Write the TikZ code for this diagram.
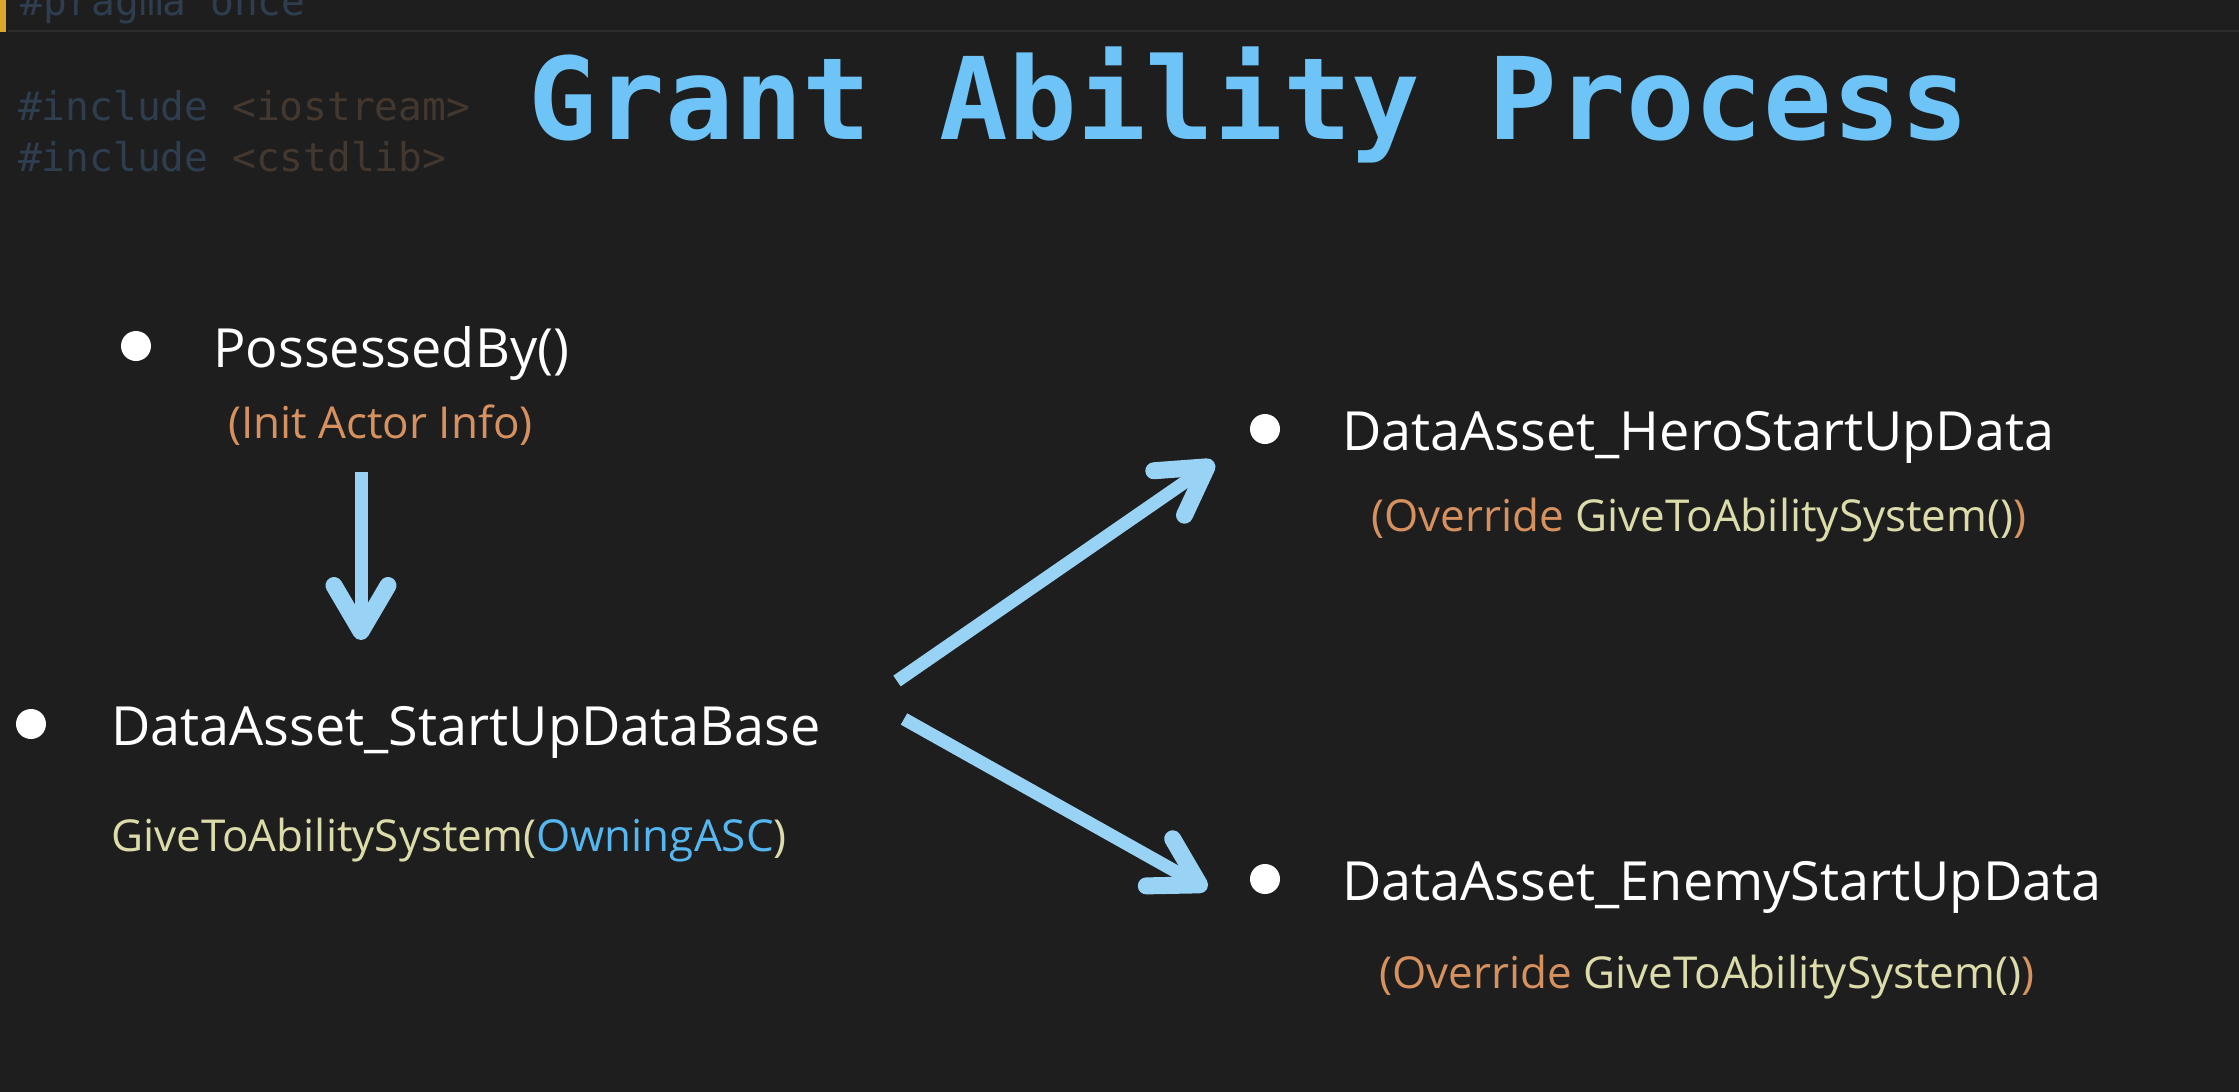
\documentclass[tikz,border=0pt]{standalone}
\usepackage{fontspec}
\setmainfont{Open Sans}
\newfontfamily\monofam{DejaVu Sans Mono}
\usetikzlibrary{arrows.meta}
\definecolor{bg}{HTML}{1E1E1E}
\definecolor{titleblue}{HTML}{6EC3F7}
\definecolor{arrowblue}{HTML}{98D3F6}
\definecolor{strorange}{HTML}{D7915F}
\definecolor{fnyellow}{HTML}{DCDCAA}
\definecolor{parblue}{HTML}{56B6F0}
\definecolor{codeblue}{HTML}{2E3E4F}
\definecolor{codebrown}{HTML}{433830}
\definecolor{gutteryellow}{HTML}{D9A82A}
\definecolor{rulegray}{HTML}{2C2C2C}
\begin{document}
\begin{tikzpicture}[x=1pt,y=-1pt,
  every node/.style={inner sep=0pt, anchor=base west},
  mainlbl/.style={font=\fontsize{54}{60}\selectfont, text=white},
  sublbl/.style={font=\fontsize{44}{50}\selectfont},
  codelbl/.style={font=\monofam\fontsize{39.5}{44}\selectfont},
  titlelbl/.style={font=\monofam\bfseries\fontsize{114}{120}\selectfont, text=titleblue},
  bulletdot/.style={circle, fill=white, minimum size=30pt, inner sep=0pt, anchor=center},
  flow/.style={draw=arrowblue, line width=13pt, line cap=butt,
    -{Straight Barb[length=46pt, width=54pt, line width=17pt 0, round]}}]
\useasboundingbox (0,0) rectangle (2239,1092);
\fill[bg] (0,0) rectangle (2239,1092);
% editor decorations
\fill[gutteryellow] (0,0) rectangle (6,32);
\draw[rulegray, line width=2pt] (8,31) -- (2239,31);
\node[codelbl, text=codeblue] (pragma) at (20,16) {\#pragma once};
\node[codelbl] (inc1) at (18,120) {\textcolor{codeblue}{\#include} \textcolor{codebrown}{<iostream>}};
\node[codelbl] (inc2) at (18,171) {\textcolor{codeblue}{\#include} \textcolor{codebrown}{<cstdlib>}};
% title
\node[titlelbl] (title) at (528,139) {Grant Ability Process};
% bullets
\node[bulletdot] (b1) at (136,346) {};
\node[bulletdot] (b2) at (31,724) {};
\node[bulletdot] (b3) at (1265,429) {};
\node[bulletdot] (b4) at (1265,879) {};
% labels
\node[mainlbl] (possessed) at (213,367) {PossessedBy()};
\node[sublbl, text=strorange] (initinfo) at (228,438) {(Init Actor Info)};
\node[mainlbl] (base) at (111,745) {DataAsset\_StartUpDataBase};
\node[sublbl] (give) at (111,851) {\textcolor{fnyellow}{GiveToAbilitySystem(}\textcolor{parblue}{OwningASC}\textcolor{fnyellow}{)}};
\node[mainlbl] (hero) at (1342,450) {DataAsset\_HeroStartUpData};
\node[sublbl] (herosub) at (1371,531) {\textcolor{strorange}{(Override }\textcolor{fnyellow}{GiveToAbilitySystem()}\textcolor{strorange}{)}};
\node[mainlbl] (enemy) at (1342,900) {DataAsset\_EnemyStartUpData};
\node[sublbl] (enemysub) at (1379,988) {\textcolor{strorange}{(Override }\textcolor{fnyellow}{GiveToAbilitySystem()}\textcolor{strorange}{)}};
% connector end points
\coordinate (downtail) at (361,472);
\coordinate (downtip) at (361,640);
\coordinate (uptail) at (897,681);
\coordinate (uptip) at (1214,462);
\coordinate (dntail) at (904,719);
\coordinate (dntip) at (1207,889);
\draw[flow] (downtail) -- (downtip);
\draw[flow] (uptail) -- (uptip);
\draw[flow] (dntail) -- (dntip);
\end{tikzpicture}
\end{document}
